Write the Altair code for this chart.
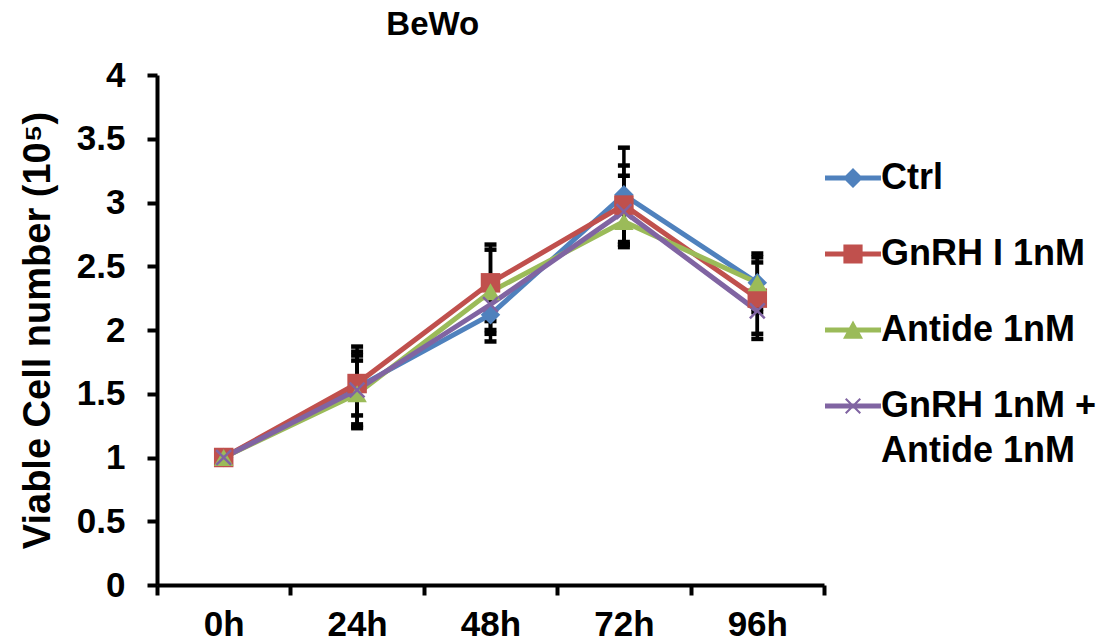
import altair as alt
import pandas as pd

times = ["0h", "24h", "48h", "72h", "96h"]
series_names = ["Ctrl", "GnRH I 1nM", "Antide 1nM", "GnRH 1nM + Antide 1nM"]
colors = ["#4F81BD", "#C0504D", "#9BBB59", "#8064A2"]

ctrl = [1.00, 1.55, 2.12, 3.06, 2.37]
gnrh = [1.00, 1.58, 2.37, 2.98, 2.25]
antide = [1.00, 1.50, 2.30, 2.85, 2.37]
combo = [1.00, 1.53, 2.20, 2.93, 2.15]

ctrl_err = [0.0, 0.32, 0.21, 0.37, 0.23]
gnrh_err = [0.0, 0.25, 0.30, 0.31, 0.28]
antide_err = [0.0, 0.26, 0.33, 0.18, 0.20]
combo_err = [0.0, 0.27, 0.20, 0.28, 0.22]

rows = []
for name, vals, errs in zip(series_names, [ctrl, gnrh, antide, combo],
                            [ctrl_err, gnrh_err, antide_err, combo_err]):
    for t, v, e in zip(times, vals, errs):
        rows.append(dict(time=t, series=name, value=v, lo=v - e, hi=v + e, err=e))
df = pd.DataFrame(rows)

FONT = "Liberation Sans"
YTITLE = "Viable Cell number (10\u2075)"

xscale = alt.Scale(type="band", domain=times, paddingInner=0, paddingOuter=0)
xaxis = alt.Axis(title=None, tickBand="extent", labelAngle=0, labelPadding=12)
yscale = alt.Scale(domain=[0, 4], nice=False, zero=True)
yaxis = alt.Axis(values=[0, 0.5, 1, 1.5, 2, 2.5, 3, 3.5, 4], format="~g",
                 labelPadding=22, titlePadding=19)

def X():
    return alt.X("time:N", sort=times, scale=xscale, axis=xaxis)

base = alt.Chart(df)

err_rules = base.transform_filter("datum.err > 0").mark_rule(
    color="black", strokeWidth=3.5
).encode(
    x=X(),
    y=alt.Y("lo:Q", scale=yscale, axis=yaxis, title=YTITLE),
    y2="hi:Q",
)

caps = base.transform_filter("datum.err > 0").transform_fold(
    ["lo", "hi"], as_=["bound", "bval"]
).mark_tick(color="black", thickness=4.5, size=12, opacity=1).encode(
    x=X(),
    y=alt.Y("bval:Q", scale=yscale, axis=yaxis, title=YTITLE),
)

color_scale = alt.Scale(domain=series_names, range=colors)

lines = base.mark_line(strokeWidth=5).encode(
    x=X(),
    y=alt.Y("value:Q", scale=yscale, axis=yaxis, title=YTITLE),
    color=alt.Color("series:N", scale=color_scale, legend=None),
    detail="series:N",
)

xmark = ("M-0.85,-0.67L-0.67,-0.85L0.85,0.67L0.67,0.85Z"
         "M0.67,-0.85L0.85,-0.67L-0.67,0.85L-0.85,0.67Z")
points = base.mark_point(filled=True, opacity=1, size=380, strokeWidth=0).encode(
    x=X(),
    y=alt.Y("value:Q", scale=yscale, axis=yaxis, title=YTITLE),
    color=alt.Color("series:N", scale=color_scale, legend=None),
    shape=alt.Shape("series:N", scale=alt.Scale(domain=series_names,
                    range=["diamond", "square", "triangle-up", xmark]), legend=None),
)

bar = "M-3.5,-0.3H3.5V0.3H-3.5Z"
leg_shapes = [
    bar + "M0,-1.25L1.25,0L0,1.25L-1.25,0Z",
    bar + "M-1.2,-1.2H1.2V1.2H-1.2Z",
    bar + "M0,-1.2L1.25,1.1H-1.25Z",
    bar + "M-1,-0.82L-0.82,-1L1,0.82L0.82,1ZM0.82,-1L1,-0.82L-0.82,1L-1,0.82Z",
]
legend = alt.Legend(
    title=None, orient="none", legendX=678, legendY=85, padding=0,
    symbolSize=256, symbolStrokeWidth=0, symbolOpacity=1, labelOffset=10,
    labelFont=FONT, labelFontSize=36, labelFontWeight="bold", labelColor="black",
    rowPadding=40, labelLimit=500,
    labelExpr="datum.label == 'GnRH 1nM + Antide 1nM' ? ['GnRH 1nM +', 'Antide 1nM'] : datum.label",
)
legend_layer = base.transform_filter("datum.time == '0h'").transform_calculate(
    legend_series="datum.series"
).mark_point(filled=True, opacity=1, size=0).encode(
    x=X(),
    y=alt.Y("value:Q", scale=yscale, axis=yaxis, title=YTITLE),
    color=alt.Color("legend_series:N", scale=alt.Scale(domain=series_names, range=colors),
                    legend=legend),
    shape=alt.Shape("legend_series:N", scale=alt.Scale(domain=series_names, range=leg_shapes),
                    legend=legend),
)

chart = alt.layer(err_rules, caps, lines, points, legend_layer).resolve_scale(
    color="independent", shape="independent"
).properties(
    width=667, height=510,
    title=alt.Title("BeWo", anchor="start", dx=367, offset=16, fontSize=33, font=FONT,
                    fontWeight="bold", color="black"),
    autosize=alt.AutoSizeParams(type="none"),
    padding={"left": 149, "top": 67, "right": 276, "bottom": 51},
).configure(
    style={"guide-label": {"lineHeight": 45}}
).configure_view(stroke=None).configure_axis(
    domainColor="black", domainWidth=4, tickColor="black", tickWidth=4, tickSize=10,
    labelFont=FONT, labelFontSize=35, labelFontWeight="bold", labelColor="black",
    grid=False, titleFont=FONT, titleFontSize=38, titleFontWeight="bold",
    titleColor="black",
)

chart.save("out.html", embed_options={"renderer": "svg", "actions": False})
